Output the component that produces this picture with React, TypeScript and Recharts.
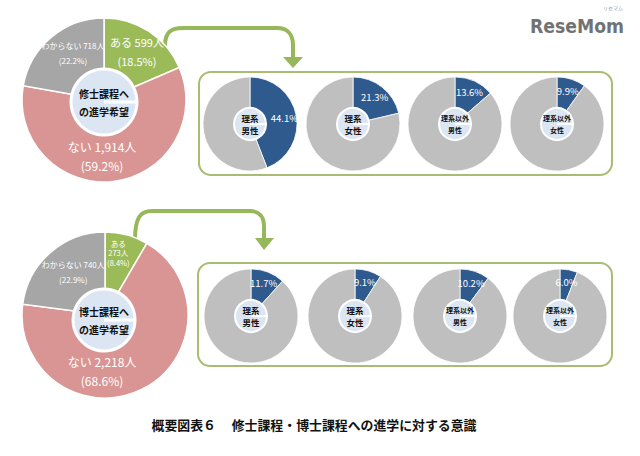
import React from "react";
import { PieChart, Pie, Cell } from "recharts";

const RADIAN = Math.PI / 180;
const FONT = '"Noto Sans CJK JP", "Noto Sans", sans-serif';

// big pies: answer categories, clockwise from 12 o'clock
const ANSWERS = ["ある", "ない", "わからない"];
const MASTER_COUNTS = [599, 1914, 718];
const MASTER_PCTS = [18.5, 59.2, 22.2];
const DOCTOR_COUNTS = [273, 2218, 740];
const DOCTOR_PCTS = [8.4, 68.6, 22.9];
const ANSWER_COLORS = ["#9bbb59", "#d99594", "#a6a6a6"];

// small pies: share answering "ある" per group
const GROUPS = [["理系", "男性"], ["理系", "女性"], ["理系以外", "男性"], ["理系以外", "女性"]];
const MASTER_GROUP_PCTS = [44.1, 21.3, 13.6, 9.9];
const DOCTOR_GROUP_PCTS = [11.7, 9.1, 10.2, 6.0];

const TITLE = "概要図表６　 修士課程・博士課程への進学に対する意識";

// label placement for the big pies (radius, angle, font size, line gap)
const MASTER_LABELS = [
  { r: 59, a: 56, fs: 11, gap: 19, split: false },
  { r: 56, a: -92, fs: 12, gap: 19, split: false },
  { r: 57, a: 123, fs: 8, gap: 15, split: false },
];
const DOCTOR_LABELS = [
  { r: 64, a: 78, fs: 7.5, gap: 9.5, split: true },
  { r: 56, a: -93, fs: 12, gap: 19, split: false },
  { r: 54, a: 126, fs: 8, gap: 15, split: false },
];

const fmt = (n: number) => n.toLocaleString("en-US");

function bigLabel(counts: number[], pcts: number[], cfg: typeof MASTER_LABELS) {
  return (p: any) => {
    const i = p.index;
    const c = cfg[i];
    const x = p.cx + c.r * Math.cos(-c.a * RADIAN);
    const y = p.cy + c.r * Math.sin(-c.a * RADIAN);
    const lines = c.split
      ? [ANSWERS[i], `${counts[i]}人`, `(${pcts[i].toFixed(1)}%)`]
      : [`${ANSWERS[i]} ${fmt(counts[i])}人`, `(${pcts[i].toFixed(1)}%)`];
    const y0 = y - ((lines.length - 1) * c.gap) / 2;
    return (
      <text key={`l${i}`} x={x} y={y0} fill="#fff" fontSize={c.fs} fontFamily={FONT} textAnchor="middle" dominantBaseline="central">
        {lines.map((t, k) => (
          <tspan key={k} x={x} y={y0 + k * c.gap}>{t}</tspan>
        ))}
      </text>
    );
  };
}

function centerLabel(lines: string[], fs: number, gap: number) {
  return (p: any) => {
    const y0 = p.cy - ((lines.length - 1) * gap) / 2;
    return (
      <text key="c" x={p.cx} y={y0} fill="#111" fontSize={fs} fontWeight="bold" fontFamily={FONT} textAnchor="middle" dominantBaseline="central">
        {lines.map((t, k) => (
          <tspan key={k} x={p.cx} y={y0 + k * gap}>{t}</tspan>
        ))}
      </text>
    );
  };
}

function smallLabel(pct: number) {
  return (p: any) => {
    if (p.index !== 0) return null;
    const r = 35;
    const x = p.cx + r * Math.cos(-p.midAngle * RADIAN);
    const y = p.cy + r * Math.sin(-p.midAngle * RADIAN);
    return (
      <text key="s" x={x} y={y} fill="#fff" fontSize={9.5} fontFamily={FONT} textAnchor="middle" dominantBaseline="central">
        {pct.toFixed(1)}%
      </text>
    );
  };
}

const SMALL_X_TOP = [250, 353, 455, 557];
const SMALL_X_BOT = [251, 355, 460, 560];

export default function App() {
  const master = ANSWERS.map((a, i) => ({ name: a, value: MASTER_PCTS[i] }));
  const doctor = ANSWERS.map((a, i) => ({ name: a, value: DOCTOR_PCTS[i] }));
  const one = [{ value: 1 }];

  const smallPies = (pcts: number[], xs: number[], cy: number, key: string) =>
    pcts.map((v, i) => {
      const d = [{ value: v }, { value: 100 - v }];
      const fs = GROUPS[i][0].length > 2 ? 7 : 8.5;
      return [
        <Pie key={`${key}${i}`} data={d} dataKey="value" cx={xs[i]} cy={cy} outerRadius={47} startAngle={90} endAngle={-270}
          stroke="#fff" strokeWidth={0.8} isAnimationActive={false} labelLine={false} label={smallLabel(v)}>
          <Cell fill="#2e5a8e" />
          <Cell fill="#bfbfbf" />
        </Pie>,
        <Pie key={`${key}c${i}`} data={one} dataKey="value" cx={xs[i]} cy={cy} outerRadius={16} stroke="#fff" strokeWidth={2}
          fill="#dce6f2" isAnimationActive={false} labelLine={false} label={centerLabel(GROUPS[i], fs, 12)} />,
      ];
    });

  return (
    <div style={{ position: "fixed", left: 0, top: 0, width: 640, height: 456, background: "#fff", overflow: "hidden" }}>
      <svg width={640} height={456} style={{ position: "absolute", left: 0, top: 0 }}>
        <rect x={199} y={72} width={413} height={103} rx={12} fill="none" stroke="#a9bc72" strokeWidth={2} />
        <rect x={198} y={263} width={414} height={103} rx={12} fill="none" stroke="#a9bc72" strokeWidth={2} />
        <path d="M165,46 C165,32 171,28 183,28 L277,28 C288,28 293,35 293,45 L293,58" fill="none" stroke="#97b85a" strokeWidth={4} />
        <polygon points="283,57 303,57 293,68" fill="#97b85a" />
        <path d="M135,240 C135,218 140,211 152,211 L250,211 C259,211 264,217 264,226 L264,239" fill="none" stroke="#97b85a" strokeWidth={4} />
        <polygon points="255,238 274,238 264,250" fill="#97b85a" />
        <text x={314} y={424} fontSize={13} fontWeight="bold" fontFamily={FONT} textAnchor="middle" dominantBaseline="central"
          textLength={325} lengthAdjust="spacingAndGlyphs" fill="#111">
          {TITLE}
        </text>
        <text x={530} y={33} fontSize={20} fontWeight="bold" fontFamily='"DejaVu Sans", sans-serif' fill="#727272"
          textLength={94} lengthAdjust="spacingAndGlyphs">
          ReseMom
        </text>
        <text x={613} y={10} fontSize={5} fontFamily={FONT} fill="#999" textAnchor="middle">リセマム</text>
      </svg>
      <div style={{ position: "absolute", left: 0, top: 0 }}>
        <PieChart width={640} height={456} margin={{ top: 0, right: 0, bottom: 0, left: 0 }}>
          <Pie data={master} dataKey="value" cx={104} cy={100} outerRadius={82} startAngle={90} endAngle={-270}
            stroke="#fff" strokeWidth={1.5} isAnimationActive={false} labelLine={false}
            label={bigLabel(MASTER_COUNTS, MASTER_PCTS, MASTER_LABELS)}>
            {master.map((_, i) => <Cell key={i} fill={ANSWER_COLORS[i]} />)}
          </Pie>
          <Pie data={one} dataKey="value" cx={104} cy={102} outerRadius={33} stroke="#fff" strokeWidth={3} fill="#dce6f2"
            isAnimationActive={false} labelLine={false} label={centerLabel(["修士課程へ", "の進学希望"], 10, 18)} />
          <Pie data={doctor} dataKey="value" cx={105} cy={315} outerRadius={83} startAngle={90} endAngle={-270}
            stroke="#fff" strokeWidth={1.5} isAnimationActive={false} labelLine={false}
            label={bigLabel(DOCTOR_COUNTS, DOCTOR_PCTS, DOCTOR_LABELS)}>
            {doctor.map((_, i) => <Cell key={i} fill={ANSWER_COLORS[i]} />)}
          </Pie>
          <Pie data={one} dataKey="value" cx={104} cy={320} outerRadius={31} stroke="#fff" strokeWidth={3} fill="#dce6f2"
            isAnimationActive={false} labelLine={false} label={centerLabel(["博士課程へ", "の進学希望"], 10, 18)} />
          {smallPies(MASTER_GROUP_PCTS, SMALL_X_TOP, 124, "m")}
          {smallPies(DOCTOR_GROUP_PCTS, SMALL_X_BOT, 316, "d")}
        </PieChart>
      </div>
    </div>
  );
}
